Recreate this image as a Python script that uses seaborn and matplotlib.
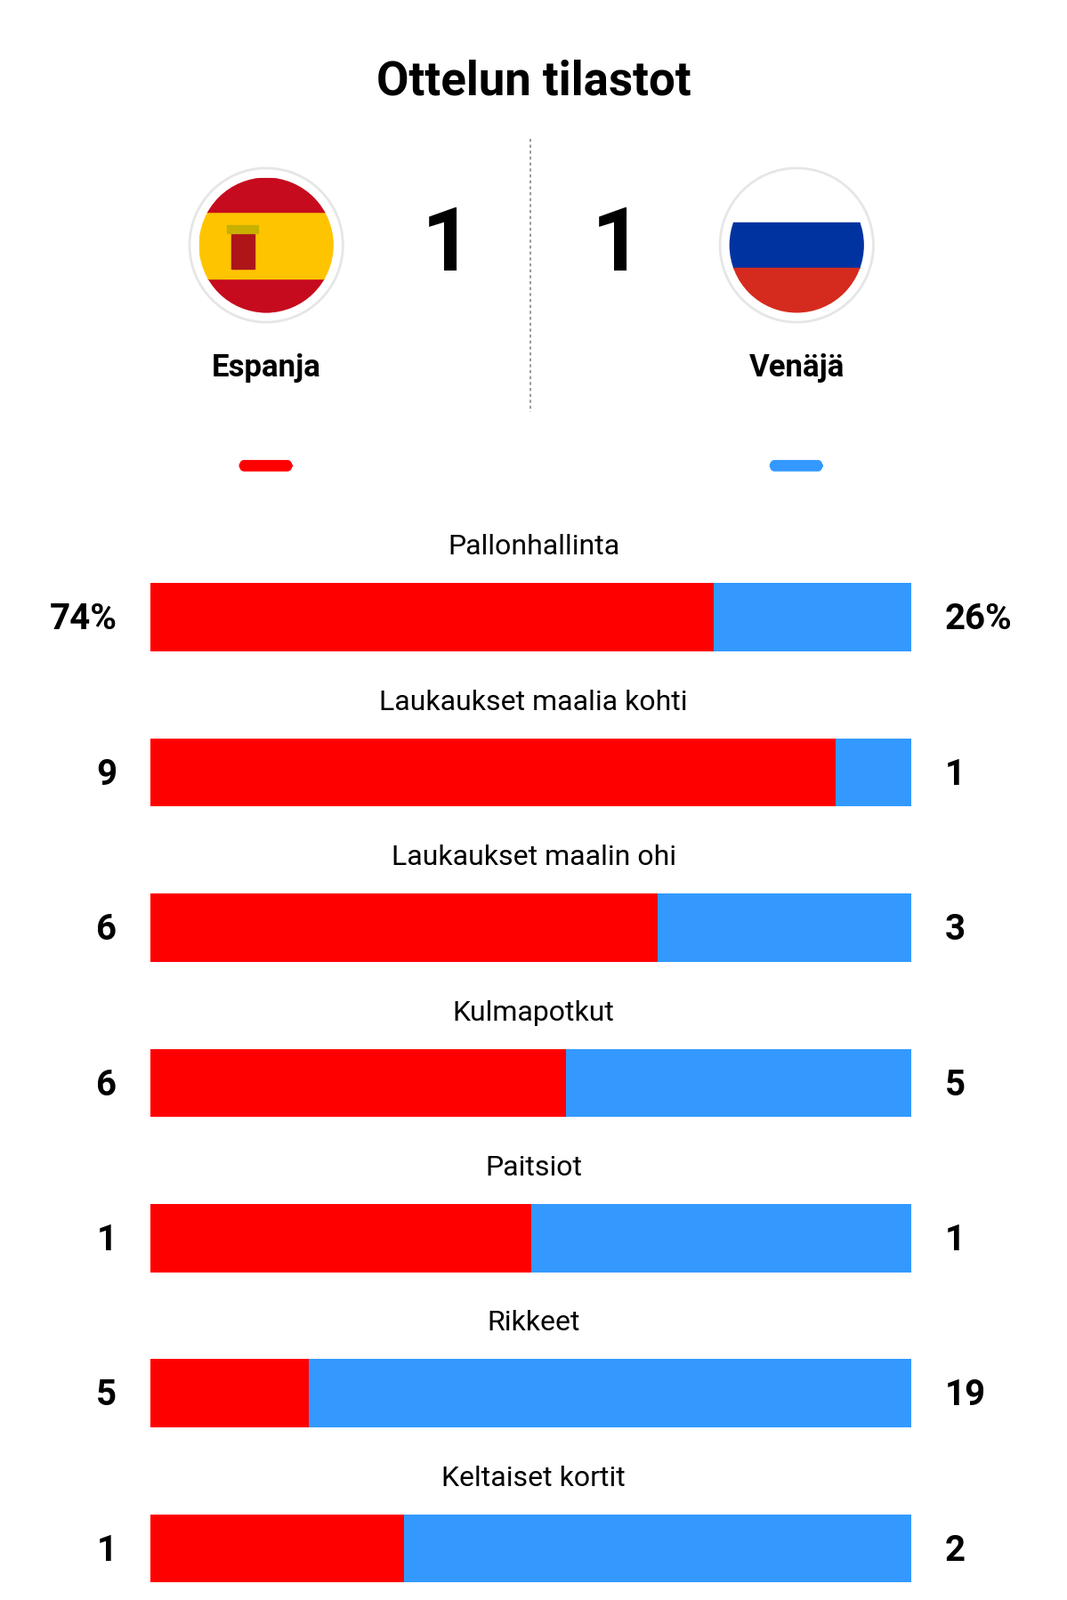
import matplotlib
matplotlib.use("Agg")
import matplotlib.pyplot as plt
import seaborn as sns
import pandas as pd
from matplotlib.patches import Circle, Rectangle, FancyBboxPatch

title = "Ottelun tilastot"
teams = ["Espanja", "Venäjä"]
score = [1, 1]
categories = ["Pallonhallinta", "Laukaukset maalia kohti", "Laukaukset maalin ohi",
              "Kulmapotkut", "Paitsiot", "Rikkeet", "Keltaiset kortit"]
home_vals = [74, 9, 6, 6, 1, 5, 1]
away_vals = [26, 1, 3, 5, 1, 19, 2]
home_labels = ["74%", "9", "6", "6", "1", "5", "1"]
away_labels = ["26%", "1", "3", "5", "1", "19", "2"]
RED, BLUE = "#ff0000", "#3399ff"

W, H = 1050.0, 1568.0
fx = lambda x: x / W
fy = lambda y: 1 - y / H

fig = plt.figure(figsize=(11.99, 17.99), dpi=100)
FONT = "Roboto"

fig.text(0.5, fy(80), title, ha="center", va="center", fontsize=38, fontweight="bold", family=FONT)

fig.add_artist(plt.Line2D([fx(522), fx(522)], [fy(137), fy(404)], color="#888888", lw=1.2, ls=(0, (2, 2))))

def flag_ax(cx, cy, r=77):
    ax = fig.add_axes([fx(cx - r), fy(cy + r), 2 * r / W, 2 * r / H])
    ax.set_xlim(-1, 1); ax.set_ylim(-1, 1); ax.axis("off")
    return ax

ax1 = flag_ax(262, 241)
clip = Circle((0, 0), 0.86, transform=ax1.transData)
for y0, h, c in [(-0.86, 0.43, "#c60b1e"), (-0.43, 0.86, "#ffc400"), (0.43, 0.43, "#c60b1e")]:
    r = Rectangle((-0.86, y0), 1.72, h, color=c); r.set_clip_path(clip); ax1.add_patch(r)
ax1.add_patch(Rectangle((-0.45, -0.3), 0.3, 0.45, color="#ad1519"))
ax1.add_patch(Rectangle((-0.5, 0.15), 0.4, 0.1, color="#c8b100"))
ax1.add_patch(Circle((0, 0), 0.98, fill=False, ec="#e6e6e6", lw=2))

ax2 = flag_ax(784, 241)
clip2 = Circle((0, 0), 0.86, transform=ax2.transData)
for y0, h, c in [(0.29, 0.6, "#ffffff"), (-0.29, 0.58, "#0033a0"), (-0.9, 0.61, "#d52b1e")]:
    r = Rectangle((-0.9, y0), 1.8, h, color=c); r.set_clip_path(clip2); ax2.add_patch(r)
ax2.add_patch(Circle((0, 0), 0.98, fill=False, ec="#e6e6e6", lw=2))

fig.text(fx(440), fy(241), str(score[0]), ha="center", va="center", fontsize=72, fontweight="bold", family=FONT)
fig.text(fx(607), fy(241), str(score[1]), ha="center", va="center", fontsize=72, fontweight="bold", family=FONT)
fig.text(fx(262), fy(360), teams[0], ha="center", va="center", fontsize=25, fontweight="bold", family=FONT)
fig.text(fx(784), fy(360), teams[1], ha="center", va="center", fontsize=25, fontweight="bold", family=FONT)

for x0, c in [(236, RED), (758, BLUE)]:
    fig.add_artist(FancyBboxPatch((fx(x0), fy(462)), fx(51), 10 / H, boxstyle="round,pad=0,rounding_size=0.004",
                                  transform=fig.transFigure, color=c))

df = pd.DataFrame({"cat": categories,
                   "share": [h / (h + a) for h, a in zip(home_vals, away_vals)],
                   "total": [1.0] * len(categories)})
ax = fig.add_axes([fx(148), fy(1551), 749 / W, 979 / H])
sns.barplot(data=df, y="cat", x="total", color=BLUE, width=0.44, orient="h", ax=ax, saturation=1)
sns.barplot(data=df, y="cat", x="share", color=RED, width=0.44, orient="h", ax=ax, saturation=1)
ax.set_xlim(0, 1); ax.set_ylim(6.22, -0.22); ax.axis("off")

for i, cat in enumerate(categories):
    yc = 607 + 152 * i
    fig.text(0.5, fy(yc - 71), cat, ha="center", va="center", fontsize=23, family=FONT)
    fig.text(fx(115), fy(yc), home_labels[i], ha="right", va="center", fontsize=29, fontweight="bold", family=FONT)
    fig.text(fx(930), fy(yc), away_labels[i], ha="left", va="center", fontsize=29, fontweight="bold", family=FONT)

fig.savefig("out.png", dpi=100, facecolor="white")
